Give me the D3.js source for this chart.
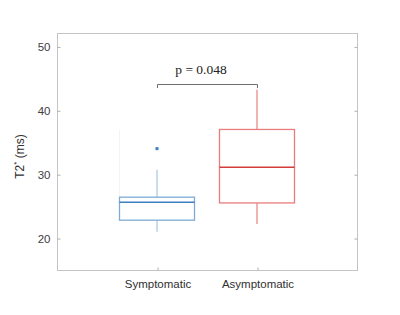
<!DOCTYPE html>
<html>
<head>
<meta charset="utf-8">
<script src="https://cdn.jsdelivr.net/npm/d3@7"></script>
<style>
  body { margin: 0; background: #fff; }
  svg { display: block; }
</style>
</head>
<body>
<div id="chart"></div>
<script>
const groups = ["Symptomatic", "Asymptomatic"];
const whiskerLo = [21.0, 22.2];
const q1 = [22.8, 25.5];
const median = [25.6, 31.1];
const q3 = [26.4, 37.0];
const whiskerHi = [30.7, 43.2];
const outliers = [[34.0], []];
const yTicks = [20, 30, 40, 50];
const pText = "p = 0.048";

const width = 400, height = 315;
const margin = { top: 33, right: 43, bottom: 45, left: 57 };

const svg = d3.select("#chart").append("svg")
  .attr("width", width)
  .attr("height", height);

const x = d3.scaleLinear().domain([0, 3]).range([margin.left, width - margin.right]);
const y = d3.scaleLinear().domain([15, 52.1]).range([height - margin.bottom, margin.top]);

const boxColors = ["#7eabd6", "#e97c7c"];
const medColors = ["#3f7fc0", "#d43c3c"];
const whiskColors = ["#c9ddee", "#ea8080"];
const halfW = 0.375;

// frame
svg.append("rect")
  .attr("x", x(0) + 0.5).attr("y", y(52.1) + 0.5)
  .attr("width", x(3) - x(0)).attr("height", y(15) - y(52.1))
  .attr("fill", "none").attr("stroke", "#c4c4c4").attr("stroke-width", 1);

// y axis ticks (left, inward) and right mirrored
const yl = svg.append("g")
  .attr("transform", `translate(${x(0) + 0.5},0.5)`)
  .call(d3.axisLeft(y).tickValues(yTicks).tickSize(-3).tickPadding(7));
yl.select(".domain").remove();
yl.selectAll("line").attr("stroke", "#b0b0b0");
yl.selectAll("text").attr("font-family", "Liberation Sans, Arial, sans-serif")
  .attr("font-size", 11.5).attr("fill", "#404040");

const yr = svg.append("g")
  .attr("transform", `translate(${x(3) + 0.5},0.5)`)
  .call(d3.axisRight(y).tickValues(yTicks).tickSize(-3).tickFormat(""));
yr.select(".domain").remove();
yr.selectAll("line").attr("stroke", "#b0b0b0");

// x axis
const xa = svg.append("g")
  .attr("transform", `translate(0.5,${y(15) + 0.5})`)
  .call(d3.axisBottom(x).tickValues([1, 2]).tickSize(-3).tickPadding(9)
    .tickFormat(d => groups[d - 1]));
xa.select(".domain").remove();
xa.selectAll("line").attr("stroke", "#b0b0b0");
xa.selectAll("text").attr("font-family", "Liberation Sans, Arial, sans-serif")
  .attr("font-size", 11.5).attr("fill", "#303030");

// y label
svg.append("text")
  .attr("transform", `translate(24,${(y(15) + y(52.1)) / 2 + 5}) rotate(-90)`)
  .attr("text-anchor", "middle")
  .attr("font-family", "Liberation Sans, Arial, sans-serif")
  .attr("font-size", 12).attr("fill", "#303030")
  .html('T2<tspan dy="-5" font-size="8">*</tspan><tspan dy="5"> (ms)</tspan>');

// faint leftover edge seen left of first box
svg.append("line")
  .attr("x1", x(1 - halfW)).attr("x2", x(1 - halfW))
  .attr("y1", y(37.0)).attr("y2", y(q3[0]))
  .attr("stroke", "#f4f4f4").attr("stroke-width", 1);

groups.forEach((g, i) => {
  const cx = x(i + 1);
  const wW = i === 0 ? 2 : 1.2;
  svg.append("line")
    .attr("x1", cx).attr("x2", cx)
    .attr("y1", y(q3[i])).attr("y2", y(whiskerHi[i]))
    .attr("stroke", whiskColors[i]).attr("stroke-width", wW);
  svg.append("line")
    .attr("x1", cx).attr("x2", cx)
    .attr("y1", y(q1[i])).attr("y2", y(whiskerLo[i]))
    .attr("stroke", whiskColors[i]).attr("stroke-width", wW);
  svg.append("rect")
    .attr("x", x(i + 1 - halfW)).attr("y", y(q3[i]))
    .attr("width", x(i + 1 + halfW) - x(i + 1 - halfW))
    .attr("height", y(q1[i]) - y(q3[i]))
    .attr("fill", "none").attr("stroke", boxColors[i]).attr("stroke-width", 1.3);
  svg.append("line")
    .attr("x1", x(i + 1 - halfW)).attr("x2", x(i + 1 + halfW))
    .attr("y1", y(median[i])).attr("y2", y(median[i]))
    .attr("stroke", medColors[i]).attr("stroke-width", 1.5);
  outliers[i].forEach(v => {
    svg.append("rect")
      .attr("x", cx - 1.5).attr("y", y(v) - 1.5)
      .attr("width", 3).attr("height", 3)
      .attr("fill", "#3d7fc2");
  });
});

// significance bracket
const by = 84;
svg.append("path")
  .attr("d", `M${x(1) + 0.5},${by + 4}V${by + 0.5}H${x(2) + 0.5}V${by + 4}`)
  .attr("fill", "none").attr("stroke", "#6e6e6e").attr("stroke-width", 1);
svg.append("text")
  .attr("x", (x(1) + x(2)) / 2 - 6).attr("y", 74)
  .attr("text-anchor", "middle")
  .attr("font-family", "Liberation Serif, Times New Roman, serif")
  .attr("font-size", 13.5).attr("fill", "#222")
  .text(pText);
</script>
</body>
</html>
